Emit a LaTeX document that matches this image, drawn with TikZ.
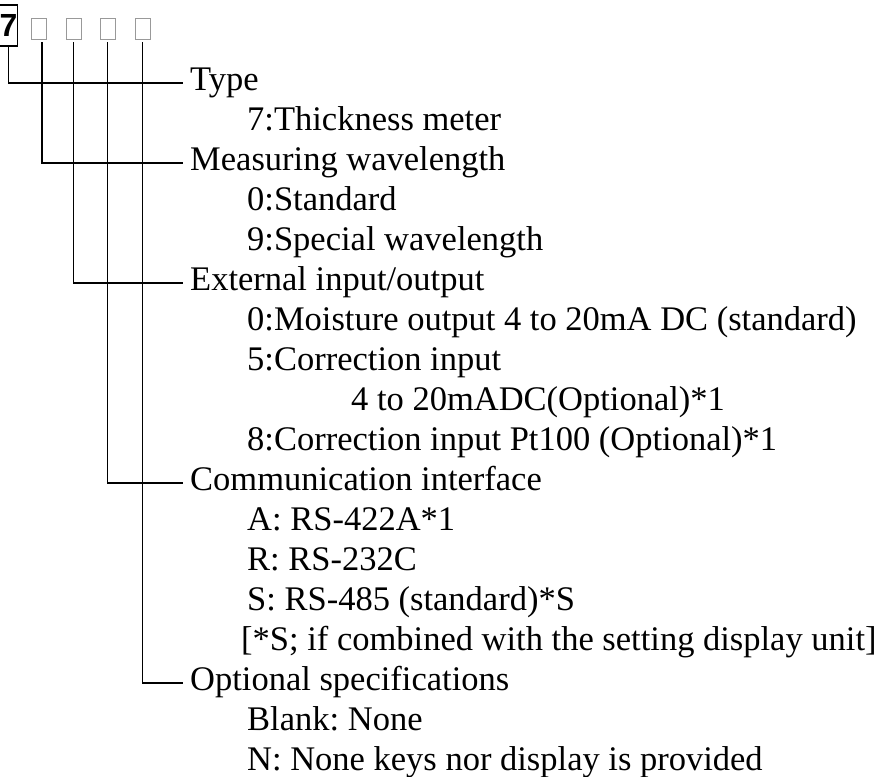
\documentclass[tikz,border=0pt]{standalone}
\usepackage{fontspec}
\setmainfont{Liberation Serif}
\newfontfamily\codefont{Liberation Sans}
\frenchspacing
\begin{document}
\begin{tikzpicture}[x=1pt,y=-1pt,
    branch/.style={line width=1.3pt},
    heading/.style={anchor=west,inner xsep=7pt,inner ysep=0pt,
      font=\fontsize{34.5}{36}\selectfont,execute at begin node=\strut},
    item/.style={anchor=west,inner sep=0pt,
      font=\fontsize{34.5}{36}\selectfont,execute at begin node=\strut},
    slot/.style={draw=black!40,line width=0.8pt,minimum width=15pt,minimum height=21pt,inner sep=0pt}]
    \useasboundingbox (0,0) rectangle (888,776);
    % code digits
    \node[draw,line width=1.3pt,minimum width=17pt,minimum height=41pt,inner sep=0pt,
      font=\codefont\bfseries\fontsize{32}{34}\selectfont] (code) at (8.5,25.5) {7};
    \node[slot] (s1) at (38.5,28.5) {};
    \node[slot] (s2) at (73.5,28.5) {};
    \node[slot] (s3) at (107.5,28.5) {};
    \node[slot] (s4) at (142.5,28.5) {};
    % headings
    \node[heading] (type) at (183,83) {Type};
    \node[item] at (247,123) {7:Thickness meter};
    \node[heading] (wave) at (183,163) {Measuring wavelength};
    \node[item] at (247,203) {0:Standard};
    \node[item] at (247,243) {9:Special wavelength};
    \node[heading] (extio) at (183,283) {External input/output};
    \node[item] at (247,323) {0:Moisture output 4 to 20mA DC (standard)};
    \node[item] at (247,363) {5:Correction input};
    \node[item] at (351,403) {4 to 20mADC(Optional)*1};
    \node[item] at (247,443) {8:Correction input Pt100 (Optional)*1};
    \node[heading] (comm) at (183,483) {Communication interface};
    \node[item] at (247,523) {A: RS-422A*1};
    \node[item] at (247,563) {R: RS-232C};
    \node[item] at (247,603) {S: RS-485 (standard)*S};
    \node[item] at (241,643) {[*S; if combined with the setting display unit]};
    \node[heading] (opt) at (183,683) {Optional specifications};
    \node[item] at (247,723) {Blank: None};
    \node[item] at (247,763) {N: None keys nor display is provided};
    % branches
    \draw[branch] (code.south) |- (type.west);
    \draw[branch] ([xshift=3.5pt,yshift=-3pt]s1.south) |- (wave.west);
    \draw[branch] ([yshift=-3pt]s2.south) |- (extio.west);
    \draw[branch] ([yshift=-3pt]s3.south) |- (comm.west);
    \draw[branch] ([yshift=-3pt]s4.south) |- (opt.west);
\end{tikzpicture}
\end{document}
